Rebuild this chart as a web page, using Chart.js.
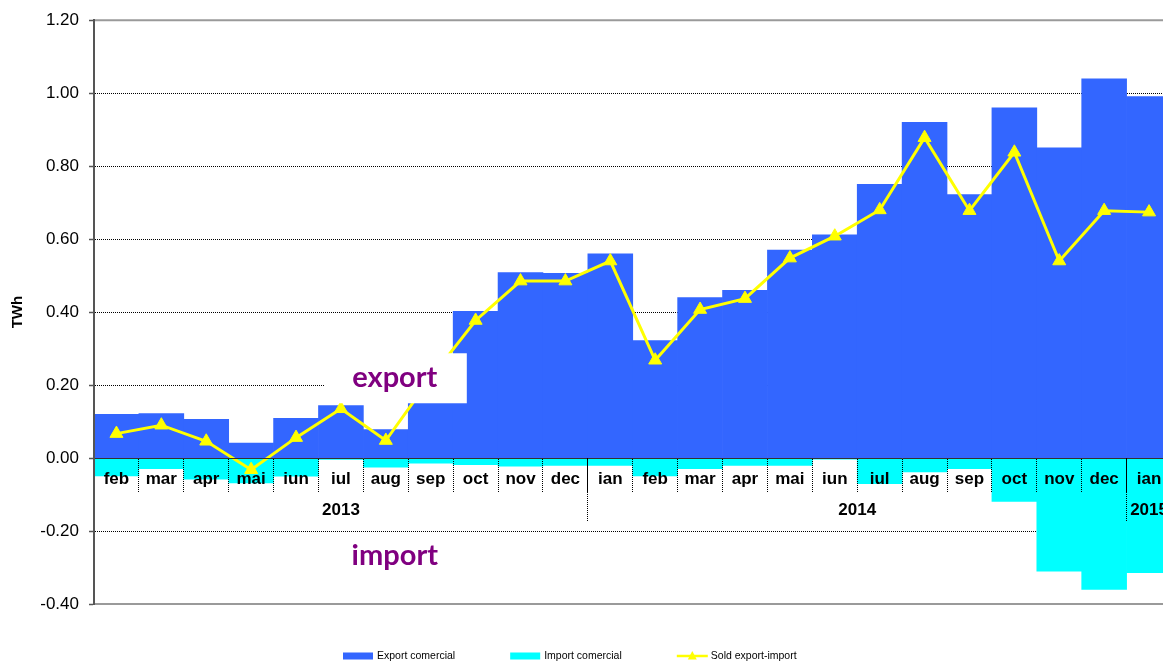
<!DOCTYPE html>
<html>
<head>
<meta charset="utf-8">
<title>Export / import comercial</title>
<script src="https://cdn.jsdelivr.net/npm/chart.js@4.4.1/dist/chart.umd.min.js"></script>
<style>
  html, body { margin: 0; padding: 0; background: #fff; overflow: hidden; }
  canvas { display: block; }
</style>
</head>
<body>
<canvas id="energyChart" width="1180" height="661"></canvas>
<script>
// months feb 2013 .. ian 2015
const months = ['feb', 'mar', 'apr', 'mai', 'iun', 'iul', 'aug', 'sep', 'oct', 'nov', 'dec',
  'ian', 'feb', 'mar', 'apr', 'mai', 'iun', 'iul', 'aug', 'sep', 'oct', 'nov', 'dec',
  'ian'];
const years = ['2013', '2014', '2015'];
const monthsPerYear = [11, 12, 1];

// TWh
const exportValues = [0.120, 0.122, 0.106, 0.041, 0.109, 0.144, 0.078, 0.235, 0.402, 0.508, 0.506,
  0.560, 0.322, 0.440, 0.460, 0.570, 0.612, 0.750, 0.920, 0.722, 0.960, 0.850, 1.039,
  0.991];
const importValues = [-0.049, -0.029, -0.058, -0.068, -0.050, -0.004, -0.025, -0.014, -0.018, -0.022, -0.020,
  -0.020, -0.049, -0.029, -0.020, -0.020, -0.003, -0.070, -0.038, -0.029, -0.119, -0.310, -0.360,
  -0.314];
const soldValues = [0.067, 0.090, 0.046, -0.032, 0.056, 0.135, 0.048, 0.220, 0.377, 0.485, 0.485,
  0.540, 0.268, 0.407, 0.437, 0.548, 0.608, 0.680, 0.878, 0.678, 0.838, 0.540, 0.678,
  0.674];

const FONT = '"Liberation Sans", Arial, sans-serif';
Chart.defaults.font.family = FONT;
Chart.defaults.color = '#000';

// year row of the axis: boundaries + centre labels, in category units
const yearTicks = [];
let start = -0.5;
years.forEach((yr, i) => {
  yearTicks.push({ value: start, boundary: true });
  yearTicks.push({ value: start + monthsPerYear[i] / 2, label: yr });
  start += monthsPerYear[i];
});
yearTicks.push({ value: start, boundary: true });
const findYearTick = v => yearTicks.find(t => Math.abs(t.value - v) < 1e-6);

const isEdge = v => Math.abs(v - 1.2) < 1e-6 || Math.abs(v + 0.4) < 1e-6 || Math.abs(v) < 1e-6;

// text labels inside the plot (x in category units, y = baseline value)
const notes = [
  { text: 'export', x: 6.2, y: 0.194, box: true },
  { text: 'import', x: 6.2, y: -0.292, box: false }
];

const overlay = {
  id: 'overlay',
  afterDatasetsDraw(chart) {
    const { ctx, chartArea: a, scales } = chart;
    ctx.save();
    // plot frame top / bottom
    ctx.strokeStyle = '#9a9a9a';
    ctx.lineWidth = 2;
    ctx.beginPath();
    ctx.moveTo(a.left, a.top); ctx.lineTo(a.right, a.top);
    ctx.moveTo(a.left, a.bottom); ctx.lineTo(a.right, a.bottom);
    ctx.stroke();

    ctx.font = 'bold 29px Lato, "Open Sans", sans-serif';
    ctx.textAlign = 'center';
    ctx.textBaseline = 'alphabetic';
    notes.forEach(n => {
      const px = scales.x.getPixelForValue(n.x);
      const py = scales.y.getPixelForValue(n.y);
      if (n.box) {
        ctx.fillStyle = '#fff';
        ctx.fillRect(px - 70, py - 34, 142, 50);
      }
      ctx.fillStyle = '#800080';
      ctx.fillText(n.text, px, py);
    });
    ctx.restore();
  }
};

const bottomLegend = {
  id: 'bottomLegend',
  afterDraw(chart) {
    const ctx = chart.ctx;
    const y = 656;
    let x = 343;
    ctx.save();
    ctx.font = '10.5px ' + FONT;
    ctx.textBaseline = 'middle';
    chart.data.datasets.forEach(ds => {
      if (ds.type === 'line') {
        ctx.strokeStyle = ds.borderColor;
        ctx.lineWidth = 2.5;
        ctx.beginPath();
        ctx.moveTo(x, y); ctx.lineTo(x + 31, y);
        ctx.stroke();
        ctx.fillStyle = ds.borderColor;
        ctx.beginPath();
        ctx.moveTo(x + 15.5, y - 5); ctx.lineTo(x + 20, y + 3.5); ctx.lineTo(x + 11, y + 3.5);
        ctx.closePath();
        ctx.fill();
      } else {
        ctx.fillStyle = ds.backgroundColor;
        ctx.fillRect(x, y - 3.5, 30, 7);
      }
      x += 34;
      ctx.fillStyle = '#000';
      ctx.textAlign = 'left';
      ctx.fillText(ds.label, x, y);
      x += ctx.measureText(ds.label).width + 55;
    });
    ctx.restore();
  }
};

new Chart(document.getElementById('energyChart'), {
  type: 'bar',
  data: {
    labels: months,
    datasets: [{
      type: 'bar',
      label: 'Export comercial',
      data: exportValues,
      backgroundColor: '#3366ff',
      grouped: false,
      categoryPercentage: 1,
      barPercentage: 1,
      order: 2
    }, {
      type: 'bar',
      label: 'Import comercial',
      data: importValues,
      backgroundColor: '#00ffff',
      grouped: false,
      categoryPercentage: 1,
      barPercentage: 1,
      order: 2
    }, {
      type: 'line',
      label: 'Sold export-import',
      data: soldValues,
      borderColor: '#ffff00',
      backgroundColor: '#ffff00',
      borderWidth: 3,
      tension: 0,
      pointStyle: 'triangle',
      pointRadius: 7.5,
      pointBorderWidth: 1,
      order: 1
    }]
  },
  options: {
    responsive: false,
    animation: false,
    layout: { padding: { left: 0, top: 20, right: 8, bottom: 57 } },
    plugins: {
      legend: { display: false },
      tooltip: { enabled: false }
    },
    scales: {
      x: {
        type: 'category',
        offset: true,
        position: { y: 0 },
        grid: {
          offset: true, drawOnChartArea: false, drawTicks: true, tickLength: 33,
          tickColor: '#000', tickBorderDash: [1, 1], z: 1
        },
        border: { display: true, color: '#333', width: 1, z: 1 },
        ticks: {
          padding: -22, autoSkip: false, maxRotation: 0, z: 1,
          color: '#000', font: { size: 17, weight: 'bold' }
        }
      },
      year: {
        type: 'linear',
        axis: 'x',
        position: { y: 0 },
        offset: false,
        min: -0.5,
        max: months.length - 0.5,
        afterBuildTicks: s => { s.ticks = yearTicks.map(t => ({ value: t.value })); },
        grid: {
          offset: false, drawOnChartArea: false, drawTicks: true, tickLength: 63,
          tickColor: c => (c.tick && findYearTick(c.tick.value) && findYearTick(c.tick.value).boundary) ? '#000' : 'rgba(0,0,0,0)',
          tickBorderDash: [1, 1], z: 1
        },
        border: { display: false },
        ticks: {
          padding: -21, autoSkip: false, maxRotation: 0, z: 1,
          color: '#000', font: { size: 17, weight: 'bold' },
          callback: v => { const t = findYearTick(v); return t && t.label ? t.label : ''; }
        }
      },
      y: {
        min: -0.4,
        max: 1.2,
        afterFit: s => { s.width = 94; },
        ticks: {
          stepSize: 0.2, padding: 10, color: '#000', font: { size: 17 },
          callback: v => v.toFixed(2)
        },
        grid: {
          color: c => isEdge(c.tick.value) ? 'rgba(0,0,0,0)' : '#000',
          lineWidth: 1, tickLength: 5, tickColor: '#555', tickWidth: 1.5
        },
        border: { display: true, color: '#555', width: 2, dash: [1, 1], z: 1 },
        title: {
          display: true, text: 'TWh', color: '#000',
          font: { size: 15, weight: 'bold' }, padding: { top: 9, bottom: 0 }
        }
      }
    }
  },
  plugins: [overlay, bottomLegend]
});
</script>
</body>
</html>
